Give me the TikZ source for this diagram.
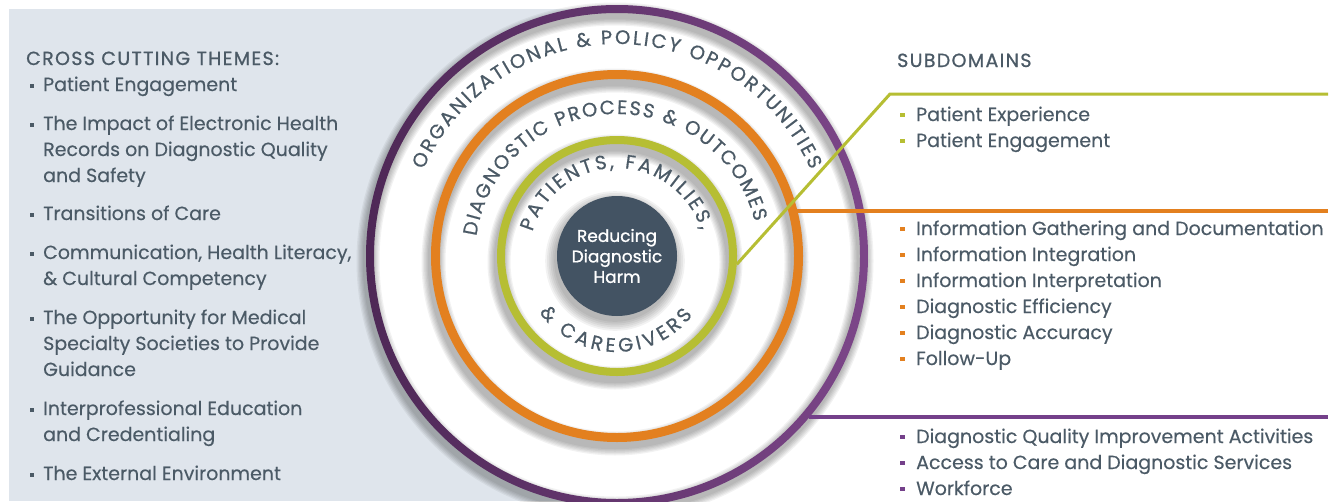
\documentclass[tikz,border=0pt]{standalone}
\usepackage{fontspec}
\setmainfont{Poppins}[FakeBold=0.3]
\newfontfamily\headfont{Poppins}[FakeBold=0.9, LetterSpace=7]
\newfontfamily\corefont{Poppins}[FakeBold=1.0]
\newfontfamily\arcfont{Poppins}[FakeBold=0.7]
\usetikzlibrary{decorations.text,calc}

\definecolor{txt}{HTML}{4B5A66}
\definecolor{panel}{HTML}{DFE5EC}
\definecolor{purpdark}{HTML}{4E2856}
\definecolor{purplight}{HTML}{7C4689}
\definecolor{purp}{HTML}{74408A}
\definecolor{orng}{HTML}{E3801F}
\definecolor{grn}{HTML}{B6BE33}
\definecolor{core}{HTML}{435363}

\begin{document}
\begin{tikzpicture}[x=1pt, y=1pt,
  body/.style={font=\fontsize{19}{26}\selectfont, text=txt, inner sep=0pt,
    anchor=base west, align=left},
  head/.style={font=\headfont\fontsize{19}{26}\selectfont, text=txt,
    inner sep=0pt, anchor=base west},
  sq/.style={rectangle, inner sep=0pt, minimum size=#1, draw=none},
  ringnode/.style={circle, inner sep=0pt, minimum size=#1},
  arctext/.style={decorate, decoration={text along path, text={#1},
    text align={fit to path}, text color=txt}},
  glow/.style={black, opacity=0.05}
]
\useasboundingbox (0,0) rectangle (1339,-501);
\fill[white] (0,0) rectangle (1339,-501);
\fill[panel] (9,-9) rectangle (617,-501);

\coordinate (C) at (617,-256);

% white field of the outer ring and its soft shadow
\fill[white] (C) circle (247);
\foreach \k in {1,...,6}
  \draw[glow, line width=8+2.5*\k] ($(C)+(-2,-5)$) circle (247);
\shade[left color=purpdark, right color=purplight, even odd rule]
  (C) circle (251) (C) circle (243);
\node[ringnode=502] (purple) at (C) {};

% middle ring
\foreach \k in {1,...,6}
  \draw[glow, line width=9+2.5*\k] ($(C)+(-2,-6)$) circle (181.5);
\node[ringnode=363, draw=orng, line width=9pt] (orange) at (C) {};

% inner ring
\foreach \k in {1,...,6}
  \draw[glow, line width=8+2.5*\k] ($(C)+(-2,-6)$) circle (116);
\node[ringnode=232, draw=grn, line width=8pt] (green) at (C) {};

% core disk
\foreach \k in {1,...,6}
  \fill[glow] ($(C)+(-2,-5)$) circle (59+1.8*\k);
\node[ringnode=120, fill=core, text=white, align=center,
  font=\corefont\fontsize{17}{20.5}\selectfont] (core) at (C)
  {Reducing\\Diagnostic\\Harm};

% connectors to the subdomain lists
\coordinate (lineend) at (1328,0);
\coordinate (gbend) at (890,-94);
\draw[purp, line width=4pt] (purple.-40) -- (purple.-40 -| lineend);
\draw[orng, line width=3.5pt] (orange.14) -- (orange.14 -| lineend);
\draw[grn, line width=3pt] (green.-4) -- (gbend) -- (gbend -| lineend);

% lettering along the rings
\path[arctext={|\arcfont\fontsize{19.5}{22}\selectfont|ORGANIZATIONAL {\&} POLICY OPPORTUNITIES}]
  ($(C)+(156:212)$) arc[start angle=156, end angle=24, radius=212];
\path[arctext={|\arcfont\fontsize{19.5}{22}\selectfont|DIAGNOSTIC PROCESS {\&} OUTCOMES}]
  ($(C)+(172:142)$) arc[start angle=172, end angle=14, radius=142];
\path[arctext={|\arcfont\fontsize{19.5}{22}\selectfont|PATIENTS, FAMILIES,}]
  ($(C)+(164:88)$) arc[start angle=164, end angle=17, radius=88];
\path[arctext={|\arcfont\fontsize{19.5}{22}\selectfont|{\&} CAREGIVERS}]
  ($(C)+(216:96)$) arc[start angle=216, end angle=322, radius=96];

% cross cutting themes (text nodes sit on the baseline of their last line)
\node[head] (lhead) at (26,-65) {CROSS CUTTING THEMES:};
\foreach \n/\y/\z/\t in {
    1/91/91/{Patient Engagement},
    2/130/182/{The Impact of Electronic Health\\Records on Diagnostic Quality\\and Safety},
    3/220/220/{Transitions of Care},
    4/259/285/{Communication, Health Literacy,\\\& Cultural Competency},
    5/324/376/{The Opportunity for Medical\\Specialty Societies to Provide\\Guidance},
    6/415/441/{Interprofessional Education\\and Credentialing},
    7/480/480/{The External Environment}} {
  \node[sq=4pt, fill=txt] (lb\n) at (31.5,-\y+5) {};
  \node[body] (lt\n) at (43,-\z) {\t};
}

% subdomains
\node[head] (rhead) at (897,-67) {SUBDOMAINS};
\foreach \n/\y/\c/\t in {
    1/121/grn/{Patient Experience},
    2/147/grn/{Patient Engagement},
    3/235/orng/{Information Gathering and Documentation},
    4/261/orng/{Information Integration},
    5/287/orng/{Information Interpretation},
    6/313/orng/{Diagnostic Efficiency},
    7/339/orng/{Diagnostic Accuracy},
    8/365/orng/{Follow-Up},
    9/443/purp/{Diagnostic Quality Improvement Activities},
    10/469/purp/{Access to Care and Diagnostic Services},
    11/495/purp/{Workforce}} {
  \node[sq=4.5pt, fill=\c] (rb\n) at (902.5,-\y+6) {};
  \node[body] (rt\n) at (916,-\y) {\t};
}
\end{tikzpicture}
\end{document}
